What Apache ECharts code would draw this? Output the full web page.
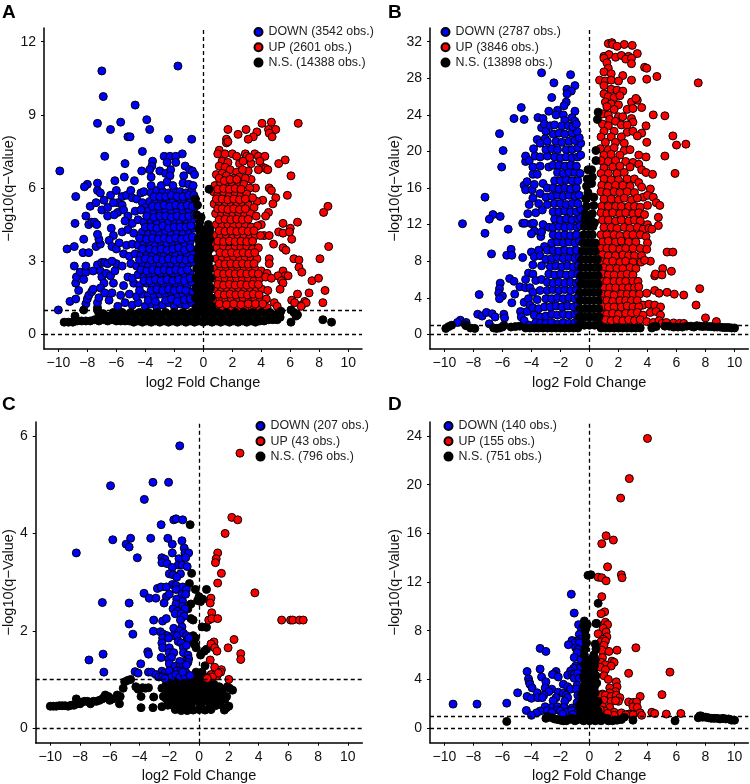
<!DOCTYPE html>
<html><head><meta charset="utf-8"><style>html,body{margin:0;padding:0;background:#fff}#c{width:750px;height:784px}</style>
<script src="https://cdn.jsdelivr.net/npm/echarts@6/dist/echarts.min.js"></script></head><body><div id="c"></div>
<script>
const aDown=[-10,1,-9.9,6.7,-7,10.8,-6.9,9.75,-1.75,11,-4.7,9.4,-7.3,8.65,-5.7,8.7,-6.4,8.4,-3.9,8.8,-3.7,8.4,-5.2,8.1,-5.05,8.1,-2.4,8,-0.8,8,-4.2,7.5,-6.8,7.3,-5.4,7,-1.45,7.4,-2.7,7.3,-2.3,7.3,-1.9,7.3,-2.5,7.05,-1.9,7.05,-3.5,7.1,-3.55,6.9,-3.7,6.75,-4.25,6.7,-3,6.7,-2.6,6.6,-2.25,6.75,-2.3,6.5,-1.25,6.9,-0.95,6.75,-0.75,6.7,-0.6,6.55,-1.35,6.5,-3.6,6.45,-5.45,6.45,-4.75,6.3,-6.1,6.3,-7.3,6.2,-8,6.15,-8.2,6.05,
-9.2,1.35,-8.8,1.45,-8.1,1.25,-8,1.45,-7.9,1.6,-7.7,1.75,-7.6,1.85,-7.3,1.1,-7.3,1.3,-7.2,1.5,-8.6,1.8,-8.8,2.1,-8.75,2.35,-8.5,2.55,-8.1,2.55,-8.1,2.8,-8.9,2.8,-8.25,2.25,-7.6,2.6,-7.3,2.85,-7,2.95,-6.8,2.95,-6.6,2.9,-7.1,2.6,-7,2.35,-6.85,2.1,-7.1,1.9,-6.8,1.7,-6.5,1.4,-6.3,1.7,-6.7,2.5,-6.4,2.4,-6.2,2.1,-6.1,2.6,-6,2.9,-9.4,3.5,-8.9,3.6,-8.3,3.35,-7.9,3.35,-8.25,3.9,-7.4,3.6,-7.1,3.7,-7.2,3.9,-7.3,4.1,-6.3,3,-8.85,4.55,-7.9,4.5,-7.7,4.6,-7.5,4.6,-7.35,4.5,-8.1,4.85,-8.8,5.65,-7.8,5.25,-7.4,5.4,-7,5.1,-6.85,5.5,-6.6,5.2,-6.6,4.85,-6.35,4.35,-6.2,4.05,-6.5,3.85,-6.3,3.6,-6,3.5,-6.4,5.7,-6,5.9,-5.9,5.4,-6.2,5.4,-5.9,5,-6.15,4.9,-5.6,5.65,-5.3,5.7,-5,5.9,-5.6,5.3,-5.5,5.1,-5.2,4.85,-4.9,5.6,-4.6,5.55,-4.3,5.8,-4.2,5.4,-4,5.2,-7.3,5.9,-7.1,5.8,
-5.9,1.15,-5.4,1.3,-4.9,1.2,-4.5,1.3,-4,1.15,-3.6,1.25,-3.2,1.1,-2.8,1.2,-2.4,1.3,-2,1.15,-1.6,1.25,-1.2,1.2,-0.8,1.3,
-5.7,1.6,-5.1,1.65,-4.6,1.55,-4.2,1.65,-3.8,1.6,-3.4,1.55,-3,1.65,-2.6,1.6,-2.2,1.7,-1.8,1.55,-1.4,1.65,-1,1.6,-0.7,1.75,
-5.5,2,-4.8,2.1,-4.4,2,-3.9,2.1,-3.5,2,-3.1,2.1,-2.7,2.05,-2.3,2,-1.9,2.1,-1.5,2.05,-1.1,2,-0.8,2.15,
-5.2,2.35,-4.9,2.3,-4.5,2.45,-4.1,2.35,-3.7,2.45,-3.3,2.4,-2.9,2.5,-2.5,2.4,-2.1,2.5,-1.7,2.4,-1.3,2.45,-0.9,2.5,
-5.6,2.8,-5,2.9,-4.6,2.8,-4.2,2.9,-3.8,2.8,-3.4,2.85,-3,2.9,-2.6,2.8,-2.2,2.9,-1.8,2.85,-1.4,2.8,-1,2.9,-0.65,2.95,
-5.5,3.3,-5.1,3.2,-4.7,3.3,-4.3,3.25,-3.9,3.3,-3.5,3.25,-3.1,3.35,-2.7,3.25,-2.3,3.3,-1.9,3.25,-1.5,3.35,-1.1,3.25,-0.7,3.4,
-5.8,3.75,-5.3,3.65,-4.9,3.7,-4.5,3.65,-4.1,3.75,-3.7,3.7,-3.3,3.65,-2.9,3.75,-2.5,3.7,-2.1,3.65,-1.7,3.75,-1.3,3.7,-0.9,3.8,
-5.6,4.2,-5.2,4.3,-4.8,4.15,-4.2,4.2,-3.8,4.1,-3.4,4.2,-3,4.15,-2.6,4.2,-2.2,4.1,-1.8,4.2,-1.4,4.15,-1,4.25,-0.65,4.35,
-5.4,4.65,-4.9,4.55,-4.5,4.7,-4.1,4.6,-3.6,4.65,-3.2,4.6,-2.8,4.7,-2.4,4.6,-2,4.65,-1.6,4.6,-1.2,4.7,-0.8,4.65,
-4.7,5.05,-4.3,5.1,-3.8,5.05,-3.4,5,-3,5.1,-2.6,5.05,-2.2,5,-1.8,5.1,-1.4,5,-1,5.1,-0.6,5.2,
-3.7,5.45,-3.3,5.5,-2.9,5.4,-2.5,5.5,-2.1,5.45,-1.7,5.4,-1.3,5.5,-0.9,5.45,-0.55,5.55,
-4.1,5.85,-3.6,5.8,-3.2,5.9,-2.8,5.85,-2.4,5.8,-2,5.9,-1.6,5.85,-1.2,5.8,-0.8,5.9,
-2.9,6.1,-2.5,6.25,-2.1,6.1,-1.4,6.2,-1,6.15,-0.7,6.1,-3.6,6.1];
const aDownFill=[-3.8,1.4,-3.3,1.35,-2.6,1.4,-2.2,1.45,-1.8,1.35,-1.3,1.42,-0.9,1.45,-4.4,1.8,-3.6,1.8,-3.2,1.85,-2.8,1.8,-2.4,1.85,-2,1.8,-1.6,1.85,-1.2,1.8,-4.1,2.2,-3.7,2.2,-3.3,2.25,-2.9,2.2,-2.5,2.25,-2.1,2.2,-1.7,2.25,-1.3,2.2,-0.9,2.3,-4.3,2.65,-3.9,2.6,-3.5,2.65,-3.1,2.6,-2.7,2.65,-2.3,2.6,-1.9,2.65,-1.5,2.6,-1.1,2.65,-4.4,3.05,-4,3.1,-3.6,3.05,-3.2,3.1,-2.8,3.05,-2.4,3.1,-2,3.05,-1.6,3.1,-1.2,3.05,-0.8,3.1,-4.2,3.5,-3.7,3.5,-3.3,3.45,-2.9,3.5,-2.5,3.45,-2.1,3.5,-1.7,3.55,-1.3,3.45,-0.9,3.55,-4.4,3.95,-3.9,3.9,-3.5,3.95,-3.1,3.9,-2.7,3.95,-2.3,3.9,-1.9,3.95,-1.5,3.9,-1.1,3.95,-0.75,4,-4,4.4,-3.6,4.4,-3.2,4.35,-2.8,4.45,-2.4,4.35,-2,4.4,-1.6,4.4,-1.2,4.4,-0.85,4.45,-3.9,4.85,-3.4,4.8,-3,4.85,-2.6,4.85,-2.2,4.8,-1.8,4.85,-1.4,4.8,-1,4.85,-0.6,4.9,-3.5,5.25,-3.1,5.25,-2.7,5.3,-2.3,5.25,-1.9,5.3,-1.5,5.25,-1.1,5.3,-0.75,5.25,-3.4,5.65,-3,5.65,-2.6,5.65,-2.2,5.7,-1.8,5.65,-1.4,5.65,-1,5.7,-0.65,5.7];
const aUp=[6.55,8.65,4.05,8.65,4.7,8.7,4.5,8.4,5,8.4,4.55,8.25,4.75,8.1,3.7,8.3,3.45,8.1,3.1,8,2.4,8.2,2.95,8.4,1.7,8.4,1.6,8,1.6,7.85,1.7,7.9,1.1,7.55,1,7.4,1.5,7.4,2,7.4,2.3,7.3,2.9,7.4,3,7.3,3.55,7.4,3.8,7.3,4.25,7.3,5.65,7.15,5.2,7,4.1,6.85,4.3,6.8,3.9,7.1,3.3,7,3.1,6.7,3.8,6.75,4.45,6.75,6.05,6.5,3.3,6.35,4.55,6,4.7,5.9,3.6,6,5.8,5.7,5,5.6,4.8,5.35,4.1,5.5,3.7,5.45,8.6,5.25,8.3,5,4.5,5,4.3,4.85,6.5,4.6,5.5,4.55,5.2,4.2,6,4.35,5.5,4.15,5.95,4.2,4,4.5,6.1,3.9,4.2,4.05,4.55,4.05,8.65,3.6,4.85,3.7,5.5,3.55,5.7,3.45,6.25,3.1,6.6,3.05,8.05,3.1,4.55,3.1,4.55,2.9,6.6,2.75,6.8,2.55,5.5,2.6,5.65,2.4,5.85,2.4,5.15,2.4,5.4,2.2,7.5,2.2,7.95,2.3,5.5,2.1,8.4,1.8,5.3,1.85,7.3,1.7,6.5,1.65,6.1,1.4,6.3,1.3,7,1.35,6.8,1.2,7.1,1.3,8.25,1.3,4.9,1.3,5.1,1.15,6.75,1.15,
1.3,7.1,1.7,7.05,2.5,7,2.75,7.1,3.2,7.25,1.1,6.9,1.5,6.85,1.85,6.75,2.3,6.65,2.7,6.75,0.9,6.55,1.3,6.6,1.6,6.5,2.1,6.4,2.5,6.45,2.9,6.4,
0.8,6.1,1.2,6.2,1.6,6.1,2,6.2,2.4,6.1,2.8,6.15,3.2,6,0.7,5.85,1,5.75,1.4,5.8,1.8,5.7,2.2,5.8,2.6,5.7,3,5.75,3.4,5.6,
0.75,5.35,1.1,5.4,1.5,5.3,1.9,5.4,2.3,5.3,2.7,5.4,3.1,5.3,3.5,5.2,0.85,4.95,1.25,4.9,1.65,4.95,2.05,4.9,2.45,4.95,2.85,4.9,3.25,4.95,3.65,4.85,
0.9,4.5,1.3,4.45,1.7,4.5,2.1,4.45,2.5,4.5,2.9,4.45,3.3,4.4,3.75,4.45,0.8,4.05,1.2,4,1.6,4.05,2,3.95,2.4,4.05,2.8,4,3.2,3.95,3.6,4.05,3.95,4.05,
0.7,3.6,0.95,3.55,1.4,3.6,1.8,3.5,2.2,3.6,2.6,3.55,3,3.6,3.4,3.5,3.8,3.55,0.9,3.1,1.3,3.15,1.7,3.1,2.1,3.15,2.5,3.05,2.9,3.15,3.3,3.1,3.7,3.1,
0.85,2.7,1.2,2.65,1.6,2.7,2,2.65,2.4,2.7,2.8,2.65,3.2,2.7,3.6,2.65,4,2.6,4.4,2.5,0.8,2.3,1.1,2.25,1.5,2.3,1.9,2.2,2.3,2.3,2.7,2.25,3.1,2.3,3.5,2.2,3.9,2.3,4.3,2.35,4.7,2.3,
0.85,1.85,1.25,1.8,1.65,1.85,2.05,1.8,2.45,1.85,2.85,1.8,3.25,1.85,3.65,1.8,4.05,1.85,4.45,1.8,0.75,1.4,1.15,1.45,1.55,1.4,1.95,1.45,2.35,1.4,2.75,1.45,3.15,1.4,3.55,1.45,3.95,1.4,4.35,1.45,
0.9,1.1,1.4,1.05,1.9,1.1,2.4,1.05,2.9,1.1,3.4,1.05,3.9,1.1,4.4,1.1];
const aUpFill=[1.1,1.25,1.6,1.22,2.1,1.25,2.6,1.22,3.1,1.25,3.6,1.25,4.1,1.25,1.05,1.65,1.45,1.62,1.85,1.65,2.25,1.62,2.65,1.65,3.05,1.62,3.45,1.65,3.85,1.62,1,2.05,1.4,2.02,1.8,2.05,2.2,2.02,2.6,2.05,3,2.02,3.4,2.05,3.8,2.05,1,2.5,1.4,2.48,1.8,2.5,2.2,2.48,2.6,2.5,3,2.48,3.4,2.5,3.8,2.48,1.1,2.9,1.5,2.88,1.9,2.9,2.3,2.88,2.7,2.9,3.1,2.88,3.5,2.9,1.15,3.35,1.55,3.32,1.95,3.35,2.35,3.32,2.75,3.35,3.15,3.32,3.55,3.35,1,3.82,1.4,3.8,1.8,3.82,2.2,3.8,2.6,3.82,3,3.8,3.4,3.82,1.1,4.25,1.5,4.22,1.9,4.25,2.3,4.22,2.7,4.25,3.1,4.22,3.5,4.25,1.1,4.7,1.5,4.72,1.9,4.7,2.3,4.72,2.7,4.7,3.1,4.72,1,5.15,1.3,5.15,1.7,5.12,2.1,5.15,2.5,5.12,2.9,5.15,0.9,5.55,1.3,5.55,1.7,5.52,2.1,5.55,2.5,5.52,2.9,5.55,1,5.95,1.4,5.98,1.8,5.95,2.2,5.98,2.6,5.95,1.1,6.4,1.45,6.3,1.85,6.35,2.3,6.35];
const aNs=[-9.6,0.5,-9.3,0.5,-9,0.5,-8.7,0.55,-8.4,0.55,-8.1,0.55,-7.8,0.55,-7.5,0.6,-7.2,0.55,-6.9,0.6,-6.6,0.55,-6.3,0.6,-6,0.55,-5.7,0.55,-5.4,0.55,-5.1,0.55,-4.8,0.5,-4.5,0.55,-4.2,0.5,-3.9,0.55,-3.6,0.5,-3.3,0.55,-3,0.5,-2.7,0.55,-2.4,0.5,-2.1,0.55,-1.8,0.5,-1.5,0.55,-1.2,0.5,-0.9,0.55,-0.6,0.5,-0.3,0.55,0,0.5,0.3,0.55,0.6,0.5,0.9,0.55,1.2,0.5,1.5,0.55,1.8,0.5,2.1,0.55,2.4,0.5,2.7,0.55,3,0.5,3.3,0.55,3.6,0.5,3.9,0.55,4.2,0.55,4.5,0.6,4.8,0.6,5.1,0.6,5.3,0.7,6.05,0.5,6.05,1,6.25,0.9,6.4,0.75,6.5,0.8,8.25,0.6,8.85,0.5,-8.85,0.75,-8.25,1,-7.3,1,-7.2,0.85,-6.9,0.85,-6.6,0.75,
-6.2,0.9,-5.9,0.8,-5.6,0.9,-5.3,0.8,-5,0.9,-4.7,0.8,-4.4,0.9,-4.1,0.8,-3.8,0.9,-3.5,0.8,-3.2,0.9,-2.9,0.8,-2.6,0.9,-2.3,0.8,-2,0.9,-1.7,0.8,-1.4,0.9,-1.1,0.8,-0.8,0.9,-0.5,0.8,-0.2,0.9,0.1,0.8,0.4,0.9,0.7,0.8,1,0.9,1.3,0.8,1.6,0.9,1.9,0.8,2.2,0.9,2.5,0.8,2.8,0.9,3.1,0.8,3.4,0.9,3.7,0.8,4,0.9,4.3,0.85,4.6,0.9,4.9,0.8,5.2,0.85,5.35,0.95,
-0.5,1.1,-0.1,1.1,0.3,1.1,0.6,1.15,-0.55,1.5,-0.2,1.5,0.2,1.5,0.55,1.5,-0.5,1.9,-0.15,1.9,0.2,1.9,0.5,1.9,-0.5,2.3,-0.15,2.3,0.2,2.3,0.5,2.3,-0.45,2.7,-0.1,2.7,0.2,2.7,0.45,2.7,-0.4,3.1,-0.1,3.1,0.2,3.1,0.45,3.1,-0.4,3.5,-0.1,3.5,0.15,3.5,0.45,3.5,-0.35,3.9,-0.05,3.9,0.2,3.9,0.45,3.9,-0.3,4.3,-0.05,4.3,0.45,4.3,0.35,4.5,-0.25,4.6,0.4,4.15,-0.45,4.9,-0.4,5.3,-0.55,5.55,0.4,5.95,-0.15,4.8,
-0.3,1.3,0,1.3,0.35,1.3,-0.35,1.7,0,1.7,0.35,1.7,-0.3,2.1,0,2.1,0.35,2.1,-0.3,2.5,0,2.5,0.35,2.5,-0.3,2.9,0,2.9,0.35,2.9,-0.25,3.3,0.05,3.3,0.3,3.3,-0.25,3.7,0.05,3.7,0.3,3.7,-0.2,4.1,0.1,4.1,0.3,4.1];
const bDown=[-3.3,28.6,-1.3,28.4,-2.45,27.5,-1,27.2,-1.55,26.8,-1.25,26.6,-1.55,26.3,-2.6,25.9,-1.6,25.4,-1.75,25,-2.2,24.5,-4.7,24.8,-2.8,24.4,-2.3,24,-1.8,24,-1,24.4,-5.2,23.6,-4.5,23.5,-3.55,23.7,-3.2,23.6,-1.2,23.7,-1,23.3,-1.7,23.4,-6.2,21.95,-5.95,20.1,-6.05,18.3,-7.2,15,-6.65,13.1,-6.15,12.9,-6.9,12.6,-8.75,12.1,-7.2,11.05,-5.6,11.5,-5.4,9.3,-6.75,8.8,-5.7,8.65,-5.35,8.65,-4.6,8.4,-4,9,-5.5,6.1,-5.2,5.8,-6.15,5.6,-6.2,5,-6.25,4.5,-6,4.2,-6.2,3.9,-5.15,4.4,-7.6,4.35,-5.35,3.45,-4.8,5.2,-4.4,5.1,-4.5,3.5,-7.7,2.2,-7.4,2,-7.1,2.4,-6.7,2.25,-6.5,1.9,-5.9,2.2,-5.85,1.8,-6.9,1.15,-8.9,1.55,-9.1,1.3,-8.5,1.3,-8.55,1.05,-4.75,2.5,-4.3,2.5,-4.7,1.9,-4.5,1.5,-4.15,1,
-4.6,12.15,-4.45,12.15,-4,12.1,-4.25,13.2,-3.85,12.15,-3.8,11.3,-4,11,-3.35,10.7,-4.15,14.2,-4.5,16.3,-4.3,16.7,-4.4,15.8,-3.95,15.8,-3.7,13.3,-3.9,14.9,-3.8,16.4,-4.4,18.9,-4.4,19.5,-4.15,19,-3.9,18.3,-3.9,17.5,-3.6,17.5,-3.85,20.3,-3.6,21.3,-3.75,19.5,-3.3,22.6,-3.1,23,-3,22.2,-3.05,21.4,-3.4,20.9,-3.4,19.4,-3.4,18.4,-3.2,16.5,-3.4,15.4,-3.5,14.3,-3.25,13.6,-3.2,12,-3.3,11.2,-3.1,9.6,-3.5,9.2,-3.8,8.5,-3.4,8.6,-3.9,7.6,-3.3,7.5,-4.2,6.7,-3.9,6.6,-4.4,6,-3.7,5.9,-3.3,6,-4.1,5.1,-3.9,4.6,-3.4,4.8,-4.2,3.9,-4.1,3.2,-3.6,3.8,-3.9,2.9,-3.5,2.8,-3.8,2.1,-3.4,1.9,-3.7,1.3,-3.4,1.2,
-3,1.2,-2.6,1.3,-2.2,1.1,-1.8,1.3,-1.4,1.2,-1,1.3,-0.75,1.5,-3,2,-2.6,2.2,-2.2,2.1,-1.8,2.2,-1.4,2.1,-1,2.2,-0.75,2.4,-3.1,3,-2.7,3,-2.3,3.1,-1.9,3,-1.5,3.1,-1.1,3,-0.8,3.2,-3,3.9,-2.6,3.9,-2.2,4,-1.8,3.9,-1.4,4,-1,3.9,-0.75,4.1,-2.9,4.8,-2.5,4.9,-2.1,4.8,-1.7,4.9,-1.3,4.8,-0.9,4.9,-2.9,5.7,-2.5,5.6,-2.1,5.7,-1.7,5.6,-1.3,5.7,-0.9,5.6,-0.7,5.8,-2.8,6.6,-2.4,6.5,-2,6.6,-1.6,6.5,-1.2,6.6,-0.8,6.6,-2.7,7.4,-2.3,7.5,-1.9,7.4,-1.5,7.5,-1.1,7.4,-0.75,7.5,-3,8.2,-2.6,8.3,-2.2,8.4,-1.8,8.3,-1.4,8.4,-1,8.3,-0.7,8.4,-2.9,9.2,-2.5,9.2,-2.1,9.1,-1.7,9.2,-1.3,9.1,-0.9,9.2,-2.6,10,-2.2,10.1,-1.8,10,-1.4,10.1,-1,10,-0.7,10.2,-2.5,10.9,-2.1,10.8,-1.7,10.9,-1.3,10.8,-0.9,10.9,-2.8,11.7,-2.5,11.7,-2.1,11.8,-1.7,11.7,-1.3,11.8,-0.85,11.7,-0.65,11.9,-2.4,12.6,-2,12.5,-1.6,12.6,-1.2,12.5,-0.8,12.6,-0.6,12.8,-2.5,13.4,-2.1,13.4,-1.7,13.5,-1.3,13.4,-0.9,13.4,-0.6,13.7,-2.9,14.2,-2.4,14.3,-2,14.3,-1.6,14.2,-1.2,14.3,-0.8,14.3,-3,15,-2.6,15.1,-2.2,15.2,-1.8,15.1,-1.4,15.2,-1,15.1,-0.7,15.2,-2.9,16,-2.5,16,-2.1,15.9,-1.7,16,-1.3,15.9,-0.9,16,-2.4,16.8,-2,16.8,-1.6,16.9,-1.2,16.8,-0.8,16.8,-2.2,17.7,-1.8,17.6,-1.4,17.7,-1,17.7,-0.65,17.6,-2.8,18.3,-2.5,18.5,-2.1,18.5,-1.7,18.4,-1.3,18.5,-0.9,18.4,-2.9,19.5,-2.4,19.4,-2,19.3,-1.6,19.4,-1.2,19.3,-0.8,19.4,-0.6,19.6,-3,20.2,-2.6,20.3,-2.2,20.2,-1.6,20.2,-1.2,20.2,-0.8,20.4,-0.6,20.9,-2.9,21.1,-2.3,21.1,-1.9,21,-1.4,21.1,-1,21.2,-0.7,21.5,-2.5,21.9,-2.1,22,-1.7,21.9,-1.2,22,-0.85,22.2,-2.7,22.8,-2.4,22.9,-1.9,22.8,-1.45,22.8,-1.15,22.7,-0.9,23];
const bUp=[1.3,31.8,1.55,31.9,1.6,31.7,2.4,31.7,2.95,31.6,1.9,31.5,1,30.4,1.35,30.6,1,30.2,1.8,30.3,2.2,30.5,2.7,30.4,3.3,30.7,2.5,30.1,2.9,30.2,2.9,29.6,1.2,29.7,1.3,29.1,3.8,29.2,3.95,29.1,1,28.7,1.5,28.5,2.3,28.3,3.95,27.9,4.65,28.2,7.5,27.5,0.7,27.8,1.1,27.7,1.5,27.8,2,27.7,2.9,27.8,1,27.2,1.5,26.8,1.9,26.7,2.3,26.6,1,26.3,1.3,26,1.7,25.9,2.1,26.1,2.9,25.4,3.3,25.6,3.2,25.8,1.1,25.4,1.5,25.2,2,25.1,1.2,24.9,1.7,24.6,2.6,24.6,3,24.7,3.6,24.8,0.9,24.1,1.3,24,2,23.8,2.3,23.8,4.4,24,5.2,23.9,1.4,23.5,1.8,23.3,2.9,23.6,3,23.2,0.9,23,1.3,22.8,2.2,22.9,2.6,22.9,3.9,22.8,1,22.2,1.7,22.2,2.6,22.1,3,22.2,3.6,22,0.8,21.6,1.5,21.6,2.2,21.6,3.3,21.7,5.75,21.7,1.1,21,1.8,21,2.4,20.9,3.95,21,6,20.7,6.65,20.8,0.75,20.3,1.3,20.2,1.7,20.4,2.4,20.1,2.8,20.2,1,19.6,1.5,19.7,2.1,19.6,3.4,19.6,3.9,19.4,5.2,19.5,0.8,19,1.3,18.9,1.8,19,2.5,18.9,3,18.8,3.4,18.6,1,18.2,1.6,18.3,2.1,18.4,2.8,18.3,3.6,18,0.8,17.6,1.3,17.6,1.9,17.6,2.4,17.7,3.9,17.7,4.35,17.5,5.9,17.6,1,17,1.5,16.9,2,16.9,2.6,17,3.1,17,0.85,16.3,1.3,16.2,1.8,16.3,2.3,16.3,2.8,16.2,3.4,16.6,3.6,16.1,4.2,15.9,0.8,15.6,1.2,15.5,1.7,15.6,2.1,15.5,2.6,15.6,3.1,15.5,3.7,15,4,15.2,4.4,15,1,14.8,1.5,14.8,2,14.7,2.4,14.9,2.9,14.7,3.3,14.9,4,14.1,4.6,14.4,4.85,14.1,0.85,14,1.3,14,1.8,14,2.2,14,2.7,14,3.1,14,3.5,13.9,0.8,13.3,1.2,13.2,1.6,13.3,2.1,13.2,2.5,13.3,3,13.2,3.4,13.3,3.8,13.1,4.75,12.8,0.9,12.5,1.3,12.5,1.8,12.4,2.2,12.5,2.7,12.4,3.1,12.5,3.5,12.4,4,12,4.75,11.9,1,11.7,1.5,11.7,1.9,11.6,2.4,11.7,2.8,11.6,3.3,11.7,3.7,11.5,4.1,11.6,4.3,11.5,0.8,10.9,1.2,10.9,1.7,10.9,2.1,10.8,2.6,10.9,3,10.9,3.5,10.9,3.9,10.7,0.9,10.1,1.3,10.2,1.8,10.1,2.2,10.2,2.7,10.1,3.2,10.1,4,10,0.8,9.4,1.2,9.4,1.6,9.4,2.1,9.3,2.5,9.4,3,9.4,3.5,9.4,3.95,9.3,5.35,9,5.75,9,0.9,8.7,1.3,8.6,1.8,8.6,2.3,8.7,2.7,8.6,3.1,8.6,3.6,8.6,0.8,8,1.2,7.9,1.6,8,2.1,7.9,2.5,8,3,7.9,3.55,7.9,4.2,8,3.8,8.1,1,7.3,1.4,7.2,1.9,7.2,2.3,7.2,2.8,7.3,3.2,7.2,5.05,7.2,0.9,6.6,1.3,6.5,1.7,6.5,2.2,6.5,2.6,6.6,3,6.5,4.5,6.4,4.55,6.6,5,6.5,5.65,6.9,0.85,5.8,1.2,5.8,1.7,5.8,2.1,5.8,2.5,5.8,3,5.8,3.35,5.8,1,5.1,1.4,5.1,1.8,5.1,2.3,5.1,2.7,5.1,3.1,5.1,3.4,5.2,7.6,5,0.9,4.4,1.3,4.4,1.7,4.3,2.2,4.4,2.6,4.4,3,4.4,3.45,4.4,3.95,4.5,4.5,4.8,4.8,4.5,5.35,4.6,5.85,4.4,6.5,4.3,0.8,3.7,1.2,3.7,1.6,3.6,2.1,3.7,2.5,3.7,2.9,3.7,3.3,3.7,3.7,3.2,4.1,3.3,4.5,3.2,4.9,3,7.35,3.2,0.9,3,1.3,3,1.7,3,2.2,3,2.6,3.1,3,3,3.4,3,0.8,2.3,1.2,2.2,1.6,2.3,2,2.2,2.5,2.3,2.9,2.3,3.3,2.4,3.7,2.1,4.2,2.4,4.6,2.5,4.9,2.1,0.75,1.5,1.1,1.6,1.5,1.5,1.9,1.6,2.3,1.5,2.7,1.6,3.1,1.5,3.5,1.6,3.95,1.4,4.4,1.3,4.8,1.5,5,1.2,5.3,1.3,5.8,1.25,6.2,1.2,6.5,1.2,8,1.8,8.75,1.4];
const bNs=[-9.9,0.65,-9.7,0.85,-9.5,1,-8.5,0.95,-8.2,0.7,-7.9,0.65,-6.6,0.7,-6.2,0.7,-6,0.8,-5.9,1,-6.4,0.65,-5.4,0.8,-5.1,0.85,-4.8,0.9,-4.4,0.7,-4.1,0.7,-3.8,0.7,-3.5,0.7,-3.2,0.7,-2.9,0.7,-2.6,0.7,-2.3,0.7,-2,0.7,-1.7,0.7,-1.4,0.7,-1.1,0.7,-0.8,0.7,0.8,0.7,1.1,0.7,1.4,0.7,1.7,0.7,2,0.7,2.3,0.7,2.6,0.7,2.9,0.7,3.2,0.7,3.5,0.7,4.3,0.7,4.4,0.85,4.6,0.85,5.2,0.9,5.5,0.9,5.8,0.8,6.1,0.8,6.4,0.8,6.7,0.9,7,0.9,7.2,0.8,7.4,0.95,7.6,0.9,7.8,0.85,8,0.9,8.2,0.85,8.4,0.85,8.6,0.8,8.8,0.8,9,0.8,9.2,0.75,9.4,0.75,9.6,0.75,9.8,0.7,10,0.7,
-0.7,1,-0.35,1,0,1,0.35,1,0.7,1,-0.7,1.9,-0.35,1.9,0,1.9,0.35,1.9,0.65,1.9,-0.65,2.8,-0.3,2.8,0,2.8,0.3,2.8,0.65,2.8,-0.65,3.7,-0.3,3.7,0,3.7,0.3,3.7,0.6,3.7,-0.65,4.6,-0.3,4.6,0,4.6,0.3,4.6,0.6,4.6,-0.6,5.5,-0.3,5.5,0,5.5,0.3,5.5,0.6,5.5,-0.6,6.4,-0.3,6.4,0,6.4,0.3,6.4,0.6,6.4,-0.55,7.3,-0.25,7.3,0.05,7.3,0.35,7.3,0.6,7.3,-0.55,8.2,-0.25,8.2,0.05,8.2,0.35,8.2,0.55,8.2,-0.5,9.1,-0.2,9.1,0.1,9.1,0.4,9.1,-0.45,10,-0.15,10,0.15,10,0.4,10,-0.4,10.9,-0.1,10.9,0.2,10.9,-0.35,11.8,0,11.8,0.25,11.8,-0.3,12.6,0.1,12.5,0.35,12.2,-0.3,13.2,0.2,13.2,-0.2,14,0.3,14.1,-0.25,14.8,0.3,15,-0.1,15.5,-0.2,16.2,0.15,16.5,-0.15,17,0.2,17.2,0.15,18,-0.1,18,0.45,19,0.45,20.1,0.6,24.3,0.55,23.5];
const cDown=[-1.3,5.8,-5.95,4.98,-3.1,5.05,-2.05,5.05,-3.68,4.7,-1.7,4.28,-1.55,4.3,-1.1,4.28,-2.55,4.18,-5.8,3.87,-4.6,3.9,-3.25,3.9,-2.1,3.9,-1.15,3.85,-4.9,3.78,-4.7,3.72,-1.8,3.78,-1,3.7,-8.25,3.6,-1.8,3.6,-0.95,3.6,-0.7,3.6,-4.15,3.5,-2.5,3.5,-2.3,3.47,-1.35,3.48,-0.9,3.5,-2.5,3.4,-2.15,3.38,-1.4,3.35,-1.15,3.35,-0.8,3.32,-1.8,3.3,-2,3.17,-1.75,3.15,-1.25,3.17,-1.5,3.1,-1.8,2.95,-1.55,2.93,-1.1,2.9,-0.85,2.85,-2.8,2.87,-2.55,2.9,-2.2,2.9,-1.55,2.85,-3.7,2.77,-3.35,2.67,-2.9,2.67,-2.2,2.7,-2,2.75,-1.15,2.75,-0.9,2.75,-1.5,2.65,-1.1,2.6,-6.5,2.58,-4.7,2.57,-2.35,2.57,-1.55,2.55,-1.1,2.5,-0.95,2.45,-1.75,2.45,-1.45,2.4,-1.6,2.35,-1.2,2.35,-1,2.3,-3.05,2.22,-2.45,2.2,-2.2,2.25,-1.25,2.22,-4.7,2.14,-1.15,2.08,-1.7,2.05,-1.3,2,-3.07,1.99,-2.6,1.98,-2.4,1.93,-2.15,1.9,-1.7,1.9,-1.45,1.9,-1.05,1.95,-0.85,1.9,-4.45,1.93,-2.45,1.85,-2.05,1.85,-0.8,1.8,-0.7,1.85,-1.4,1.78,-2.5,1.75,-1.2,1.75,-2.45,1.65,-2,1.65,-1.05,1.65,-0.85,1.7,-3.45,1.57,-3.4,1.52,-6.45,1.52,-2,1.55,-1.7,1.55,-1.05,1.55,-0.75,1.5,-2.55,1.45,-2.05,1.42,-1.85,1.45,-0.7,1.42,-1,1.37,-1.3,1.37,-7.4,1.4,-0.75,1.35,-3.92,1.32,-2,1.32,-1.6,1.27,-1.3,1.25,-1.1,1.25,-0.85,1.3,-4.3,1.16,-4.1,1.13,-3.4,1.15,-3.2,1.15,-6.4,1.15,-2.5,1.17,-2.3,1.13,-2,1.18,-1.5,1.17,-1.2,1.18,-0.9,1.15,-2.9,1.1,-2.7,1.05,-2.45,1.05,-2.2,1.02,-1.85,1.05,-1.55,1.1,-1.3,1.05,-0.95,1.05,-0.6,1.08,-2.3,1.02,-1.1,1.15];
const cUp=[2.75,5.65,2.2,4.33,2.6,4.28,1.75,4,1.25,3.6,1.15,3.48,1.1,3.4,1.5,3.18,1.25,2.98,3.75,2.78,0.8,2.67,0.75,2.57,0.85,2.37,0.65,2.22,0.85,2.25,1.25,2.25,5.55,2.22,6.15,2.22,6.3,2.22,6.75,2.22,7,2.22,2.35,1.82,1,1.77,0.8,1.73,1.95,1.65,1.05,1.65,1.2,1.58,2.8,1.53,2.8,1.41,0.75,1.4,1.05,1.25,1.5,1.2,1.45,1.15,1.2,1.07,2,1,0.8,1.1,0.65,1.05,1.3,1.13,0.9,1.05,0.55,1.02];
const cNs=[-10,0.45,-9.8,0.45,-9.6,0.45,-9.4,0.46,-9.2,0.46,-9,0.46,-8.8,0.45,-8.6,0.47,-8.4,0.47,-8.2,0.5,-8,0.5,-8.25,0.6,-7.9,0.53,-7.7,0.55,-7.5,0.55,-7.3,0.5,-7.1,0.55,-6.9,0.55,-6.7,0.57,-6.5,0.6,-6.4,0.63,-6.3,0.68,-6.1,0.65,-6,0.57,-5.8,0.6,-5.5,0.68,-5.3,0.65,-5.35,0.5,-5.1,0.82,-5,0.95,-4.8,0.98,-4.6,1,-4.25,0.85,-4.1,0.8,-3.9,0.65,-3.9,0.42,-3.8,0.83,-3.6,0.82,-3.4,0.83,-3.05,0.64,-3.1,0.42,-2.5,0.82,-2.5,0.44,-2.4,0.65,-0.6,4.18,-0.5,3.18,-0.65,2.97,-0.25,2.85,0.5,2.85,0,2.7,-0.1,2.62,0.1,2.6,0.25,2.65,-0.55,2.55,-0.75,2.45,-0.55,2.25,-0.4,2.22,0.2,2.08,0.5,2.07,-0.4,1.9,-0.25,1.85,-0.5,1.8,-0.3,1.72,-0.2,1.65,0.5,1.62,0.35,1.58,0.1,1.5,0.4,1.28,-0.2,1.15,0.2,1.15,1.9,0.85,2.05,0.82,2.25,0.78,1.85,0.65,2,0.45,1.85,0.42,1.7,0.37,
-2.2,0.9,-1.8,0.9,-1.4,0.9,-1,0.9,-0.6,0.95,-0.2,1,0.2,1,0.6,0.95,1,0.9,1.35,0.85,-2.1,0.75,-1.7,0.75,-1.3,0.75,-0.9,0.75,-0.5,0.8,-0.1,0.85,0.3,0.85,0.7,0.8,1.1,0.75,1.5,0.72,-2.2,0.6,-1.8,0.6,-1.4,0.6,-1,0.6,-0.6,0.65,-0.2,0.7,0.2,0.7,0.6,0.65,1,0.6,1.4,0.6,1.75,0.6,-2.1,0.47,-1.7,0.46,-1.3,0.45,-0.9,0.46,-0.5,0.5,-0.1,0.55,0.3,0.55,0.7,0.5,1.1,0.46,1.45,0.48,-1.6,0.38,-1.2,0.36,-0.8,0.36,-0.4,0.37,0,0.38,0.4,0.37,0.8,0.38,-1.5,0.7,-0.7,0.7,-0.3,0.72,0.5,0.72,-1.1,0.52,0.1,0.46,0.9,0.53,
-2,0.52,-1.5,0.52,-0.7,0.52,-0.3,0.6,0.4,0.62,0.8,0.6,1.25,0.52,-1.9,0.68,-1.15,0.66,-0.85,0.62,0,0.62,0.9,0.7,1.25,0.68,1.6,0.66,-2,0.82,-1.6,0.83,-1.2,0.83,-0.8,0.84,-0.4,0.88,0,0.93,0.4,0.92,0.8,0.86,1.2,0.82,1.6,0.8,-1.5,0.97,-1.1,0.97,-0.7,1,0.4,1.05,0,1.08,-0.3,1.08,0.8,1];
const dDown=[-1.25,11,-1.05,9.45,-0.75,8.5,-0.55,8.1,-0.7,7.7,-0.6,7.3,-1.2,7.2,-0.85,7.15,-1,7,-0.7,7,-1.45,6.85,-0.95,6.6,-0.8,6.45,-3.4,6.55,-3,6.3,-0.85,6.2,-1.05,5.8,-0.6,5.6,-0.95,5.1,-0.75,4.9,-1.1,4.9,-1.3,4.7,-3.4,4.85,-4.3,4.65,-2.3,4.65,-2.45,4.45,-2.55,4.4,-2.15,4.2,-1.5,4.35,-1.2,4.45,-1.05,4.4,-1.05,4.1,-0.8,4.5,-0.7,4.1,-3.3,4.2,-4.2,4.05,-4.15,3.8,-3,3.8,-4.1,3.6,-1.8,3.6,-1.5,3.4,-0.85,3.5,-3.05,3.3,-3.95,3.3,-2.6,3.2,-1.3,3.2,-0.9,3.2,-2.8,3,-2.15,2.95,-1.8,2.85,-1.6,2.7,-4.95,2.9,-3.6,2.9,-3.15,2.7,-4.3,2.6,-4,2.45,-3.55,2.5,-3.25,2.5,-2.3,2.5,-1.5,2.5,-0.8,2.7,-0.6,2.7,-2.5,2.25,-1.7,2.2,-0.85,2.1,-9.4,1.97,-7.75,1.97,-5.7,2.05,-3.05,1.75,-2.6,1.7,-2.2,1.75,-1.75,1.7,-1.2,1.65,-0.85,1.7,-4.35,1.45,-3.4,1.4,-2.9,1.45,-2.2,1.5,-2,1.4,-1.6,1.3,-1.2,1.45,-0.9,1.2,-3.65,1.25,-2.6,1.3,-1.85,1.15,-4,1.05,-1.15,1.1];
const dUp=[4,23.8,2.75,20.5,2.15,18.9,1.15,15.8,1.65,15.45,0.85,15.15,1.25,13.25,2.2,12.6,2.25,12.35,0.6,12.4,0.85,12.35,1.15,12.1,0.85,10.8,1.05,9.55,0.8,9.4,1.1,8.7,1.25,8.5,0.95,8.2,1.15,7.9,1.2,7.5,0.6,7.75,0.95,7.3,0.8,7.1,1.1,7.15,1,6.8,0.85,6.4,1.35,6.3,1.9,6.4,3.2,6.6,0.9,5.8,1.55,5.5,1.7,5.4,0.8,5.4,1.1,5.2,1.5,5.1,0.75,5,1.1,4.8,2.7,4.5,5.55,4.6,1,4.3,1.3,4,1.85,3.8,1.9,3.4,1.4,3.3,1.8,3,1.4,2.9,0.9,2.8,0.7,2.7,1.1,2.7,1.5,2.6,1.85,2.7,2.1,2.5,5,2.75,3.5,2.6,2,2.2,1,2.3,1.5,2.2,1.8,2.25,2.7,2.15,3,2.1,3.25,2.15,3,1.75,3.3,1.7,0.9,1.75,1.4,1.7,1.05,1.4,1.7,1.3,2.2,1.25,2.7,1.15,3.5,1.25,3.6,1.05,4.3,1.3,4.5,1.2,5.3,1.15,6.3,1.2,0.7,1.2,1.15,1.05,1.7,1.05,3,1.1,2.5,1.1,0.75,1.5,1.25,1.2];
const dNs=[-5.7,0.55,-3,0.8,-2.9,0.95,-2.6,0.85,-2.4,0.75,-2.2,0.7,-2,0.65,-1.8,0.6,-1.6,0.6,-1.4,0.7,-1.2,0.8,-1,0.6,-0.8,0.7,1.6,0.6,1.9,0.65,2.2,0.7,2.4,0.9,3,0.65,5.9,0.6,7.5,0.85,7.6,1,7.7,1,7.8,0.9,8,0.9,8.2,0.85,8.4,0.8,8.6,0.8,8.8,0.8,9,0.75,9.2,0.8,9.4,0.75,9.6,0.75,9.8,0.65,10,0.65,
-0.35,8.8,-0.15,8.5,-0.4,8.4,0.45,8.6,-0.3,8,-0.25,7.5,-0.2,7,-0.3,6.5,0.4,6.9,0.45,6.5,0.3,6,-0.35,6,-0.2,5.6,0.1,5.4,0.4,5.6,-0.05,5,-0.35,5.2,0.35,5.1,-0.3,4.6,0.3,4.6,0.05,4.2,-0.4,4.2,0.45,4.3,-0.3,3.8,0.2,3.8,0.5,3.7,-0.1,3.4,0.35,3.4,-0.45,3.3,-0.5,2.8,0,2.9,0.4,2.9,0.6,2.2,-0.5,2.3,-0.15,2.4,0.2,2.4,-0.7,1.9,-0.3,1.9,0.1,1.9,0.45,1.9,-0.6,1.4,-0.2,1.4,0.2,1.4,0.6,1.4,-0.5,1,0,1,0.5,1,0.9,0.9,-0.7,0.9,1.2,0.8,0.1,12.6,0.6,10.25,0.5,8.6,-0.1,12.55,-0.4,0.6,0,0.6,0.4,0.6,0.8,0.6,1.3,0.6];
const countLabels=[["DOWN (3542 obs.)","UP (2601 obs.)","N.S. (14388 obs.)"],["DOWN (2787 obs.)","UP (3846 obs.)","N.S. (13898 obs.)"],["DOWN (207 obs.)","UP (43 obs.)","N.S. (796 obs.)"],["DOWN (140 obs.)","UP (155 obs.)","N.S. (751 obs.)"]];
const panelTags=["A","B","C","D"];
const xTicks=[-10,-8,-6,-4,-2,0,2,4,6,8,10];
const yTicksA=[0,3,6,9,12],yTicksB=[0,4,8,12,16,20,24,28,32],yTicksC=[0,2,4,6],yTicksD=[0,4,8,12,16,20,24];
const panels=[
 {d:[aDown.concat(aDownFill),aUp.concat(aUpFill),aNs],yt:yTicksA,g:[44,28,318,321],xr:[-10.99,10.95],yr:[-0.6,12.56],lg:[253.5,26],tag:[2,3],nx:8,nsZ:4},
 {d:[bDown,bUp,bNs],yt:yTicksB,g:[430,28,318.3,321],xr:[-10.99,10.95],yr:[-1.6,33.5],lg:[440.5,26],tag:[388,3],nx:395,nsZ:4},
 {d:[cDown,cUp,cNs],yt:yTicksC,g:[35.7,422,326.6,320.7],xr:[-10.98,10.97],yr:[-0.3,6.29],lg:[255.5,420],tag:[2,395],nx:8,nsZ:1},
 {d:[dDown,dUp,dNs],yt:yTicksD,g:[430,422,318.3,320.7],xr:[-10.99,10.95],yr:[-1.2,25.15],lg:[443.5,420],tag:[388,395],nx:395,nsZ:4}];
const colors=['#0000ff','#ff0000','#000000'];
const pairs=f=>{const o=[];for(let i=0;i<f.length;i+=2)o.push([f[i],f[i+1]]);return o;};
const minus=v=>String(v).replace('-','\u2212');
const opt={animation:false,backgroundColor:'#fff',grid:[],xAxis:[],yAxis:[],series:[],legend:[],title:[]};
panels.forEach((p,i)=>{
 opt.grid.push({left:p.g[0],top:p.g[1],width:p.g[2],height:p.g[3],outerBoundsMode:'none',containLabel:false});
 const ax={show:true,lineStyle:{color:'#000',width:1.5},onZero:false};
 const tk={show:true,length:3,lineStyle:{color:'#000',width:1}};
 const lb={color:'#111',fontFamily:'Liberation Sans',fontSize:14,formatter:minus};
 opt.xAxis.push({type:'value',gridIndex:i,min:p.xr[0],max:p.xr[1],splitLine:{show:false},axisLine:ax,
  axisTick:{...tk,customValues:xTicks},axisLabel:{...lb,margin:7,customValues:xTicks},
  name:'log2 Fold Change',nameLocation:'middle',nameGap:26,nameTextStyle:{color:'#111',fontFamily:'Liberation Sans',fontSize:14.5}});
 opt.yAxis.push({type:'value',gridIndex:i,min:p.yr[0],max:p.yr[1],splitLine:{show:false},axisLine:ax,
  axisTick:{...tk,customValues:p.yt},axisLabel:{...lb,margin:8,customValues:p.yt},
  name:'\u2212log10(q\u2212Value)',nameLocation:'middle',nameGap:p.g[0]-p.nx-8,nameRotate:90,nameTextStyle:{color:'#111',fontFamily:'Liberation Sans',fontSize:14.5}});
 p.d.forEach((arr,k)=>{
  const s={type:'scatter',name:countLabels[i][k],xAxisIndex:i,yAxisIndex:i,data:pairs(arr),symbol:'circle',symbolSize:8,
   itemStyle:{color:colors[k],borderColor:'#000',borderWidth:1,opacity:1},emphasis:{disabled:true},silent:true,z:k===2?p.nsZ:2+k};
  if(k===2)s.markLine={silent:true,symbol:['none','none'],label:{show:false},animation:false,z:6,
   lineStyle:{color:'#000',type:[4,3],width:1.3},data:[{xAxis:0},{yAxis:0},{yAxis:1}]};
  opt.series.push(s);
 });
 opt.legend.push({data:countLabels[i].map(n=>({name:n,icon:'circle'})),orient:'vertical',left:p.lg[0],top:p.lg[1],padding:0,itemWidth:8,itemHeight:8,itemGap:3.3,
  textStyle:{fontFamily:'Liberation Sans',fontSize:12.4,color:'#222',padding:[0,0,0,1]},selectedMode:false,backgroundColor:'transparent'});
 opt.title.push({text:panelTags[i],left:p.tag[0],top:p.tag[1],padding:0,textStyle:{fontFamily:'Liberation Sans',fontWeight:'bold',fontSize:19,color:'#000'}});
});
echarts.init(document.getElementById('c'),null,{renderer:'canvas'}).setOption(opt);
</script></body></html>
